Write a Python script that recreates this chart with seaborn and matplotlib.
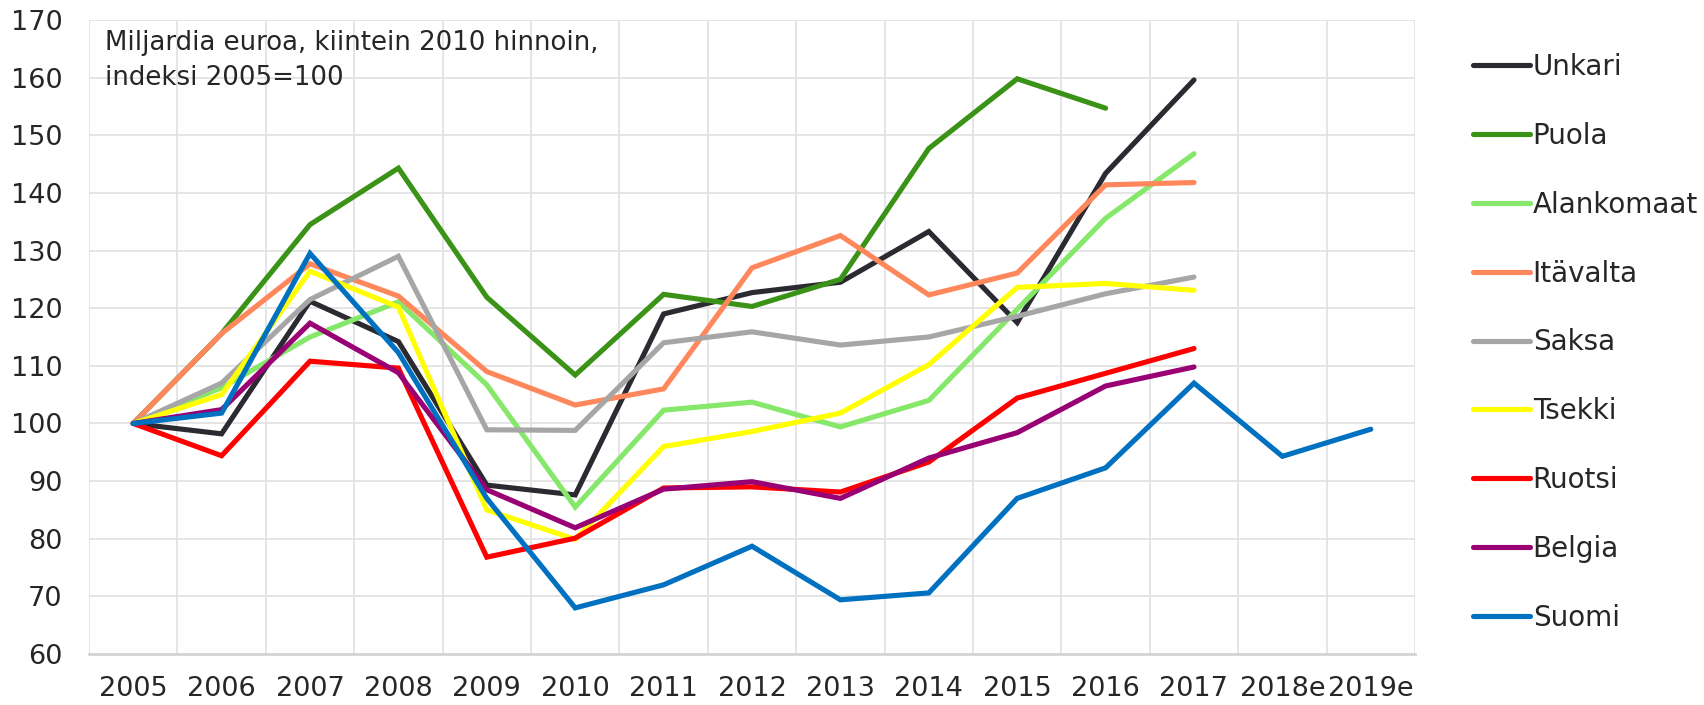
import numpy as np
import pandas as pd
import matplotlib
matplotlib.use("Agg")
import matplotlib.pyplot as plt
import seaborn as sns

# years on the x axis
years = ['2005', '2006', '2007', '2008', '2009', '2010', '2011', '2012',
         '2013', '2014', '2015', '2016', '2017', '2018e', '2019e']

nan = np.nan
unkari = [100, 98.2, 121.2, 114.2, 89.3, 87.6, 119.0, 122.7, 124.5, 133.3, 117.5, 143.4, 159.6, nan, nan]
puola = [100, 115.6, 134.5, 144.3, 121.9, 108.4, 122.4, 120.3, 125.0, 147.7, 159.8, 154.7, nan, nan, nan]
alankomaat = [100, 106.2, 115.0, 121.1, 106.7, 85.5, 102.3, 103.7, 99.4, 104.0, 119.8, 135.6, 146.8, nan, nan]
itavalta = [100, 115.6, 127.7, 122.1, 109.0, 103.2, 106.0, 127.0, 132.6, 122.3, 126.1, 141.4, 141.8, nan, nan]
saksa = [100, 107.0, 121.5, 129.0, 98.9, 98.8, 114.0, 115.9, 113.6, 115.0, 118.6, 122.5, 125.4, nan, nan]
tsekki = [100, 105.0, 126.4, 120.2, 85.0, 79.9, 96.0, 98.6, 101.8, 110.2, 123.6, 124.3, 123.1, nan, nan]
ruotsi = [100, 94.4, 110.8, 109.6, 76.8, 80.1, 88.8, 89.0, 88.1, 93.3, 104.4, 108.7, 113.0, nan, nan]
belgia = [100, 102.4, 117.4, 108.8, 88.5, 81.9, 88.6, 89.9, 87.0, 94.0, 98.4, 106.5, 109.8, nan, nan]
suomi = [100, 101.8, 129.5, 112.3, 87.0, 68.0, 72.0, 78.7, 69.4, 70.6, 87.0, 92.3, 107.0, 94.3, 99.0]

countries = ['Unkari', 'Puola', 'Alankomaat', 'Itävalta', 'Saksa', 'Tsekki', 'Ruotsi', 'Belgia', 'Suomi']
series = [unkari, puola, alankomaat, itavalta, saksa, tsekki, ruotsi, belgia, suomi]
colors = ['#2b2a30', '#3a9317', '#86e86a', '#ff875c', '#a6a6a6', '#ffff00', '#ff0000', '#990073', '#0070c0']

rows = []
for name, vals in zip(countries, series):
    for i, v in enumerate(vals):
        rows.append({'pos': i, 'maa': name, 'arvo': v})
df = pd.DataFrame(rows).dropna()

sns.set_style("white")
plt.rcParams['font.family'] = ['DejaVu Sans']
plt.rcParams['text.color'] = '#262626'

fig = plt.figure(figsize=(17.04, 7.05), dpi=100)
ax = fig.add_axes([89 / 1704, 1 - 654 / 705, (1415 - 89) / 1704, (654 - 20) / 705])

sns.lineplot(data=df, x='pos', y='arvo', hue='maa', hue_order=countries,
             palette=colors, linewidth=3.7, sort=False, ax=ax,
             solid_capstyle='round', solid_joinstyle='miter')

ax.set_xlim(-0.5, len(years) - 0.5)
ax.set_ylim(60, 170)
ax.set_yticks(np.arange(60, 171, 10))
ax.set_xticks(np.arange(len(years)))
ax.set_xticklabels(years)
ax.set_xticks(np.arange(len(years) + 1) - 0.5, minor=True)
ax.grid(False)
ax.grid(axis='y', which='major', color='#e3e3e3', linewidth=1.3)
ax.grid(axis='x', which='minor', color='#e3e3e3', linewidth=1.3)
ax.tick_params(axis='both', which='both', length=0, colors='#262626')
ax.tick_params(axis='y', pad=19, labelsize=19.5)
ax.tick_params(axis='x', pad=16, labelsize=19.5)
ax.set_xlabel('')
ax.set_ylabel('')
for side in ['top', 'right', 'left']:
    ax.spines[side].set_visible(False)
ax.spines['bottom'].set_color('#d4d4d4')
ax.spines['bottom'].set_linewidth(2)
ax.set_axisbelow(True)

ax.text(0.012, 0.985, 'Miljardia euroa, kiintein 2010 hinnoin,\nindeksi 2005=100',
        transform=ax.transAxes, ha='left', va='top', fontsize=18.7,
        linespacing=1.45, color='#262626')

handles, labels = ax.get_legend_handles_labels()
ax.get_legend().remove()
fig.legend(handles, labels, loc='upper left', bbox_to_anchor=(1473 / 1704, 1 - 53 / 705),
           frameon=False, fontsize=20, handlelength=2.05, handletextpad=0.1,
           labelspacing=1.47, borderpad=0, borderaxespad=0)

fig.savefig('out.png', dpi=100)
